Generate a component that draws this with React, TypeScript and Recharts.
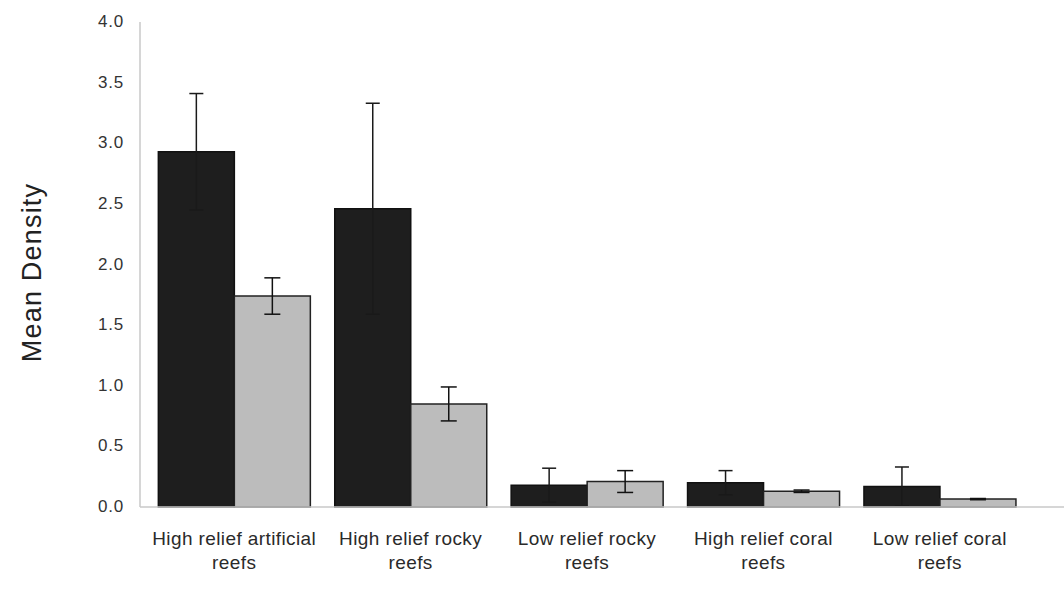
import React from 'react';
import { BarChart, Bar, XAxis, YAxis, ErrorBar } from 'recharts';

const categories = [
  'High relief artificial reefs',
  'High relief rocky reefs',
  'Low relief rocky reefs',
  'High relief coral reefs',
  'Low relief coral reefs',
];
const categoryLines = [
  ['High relief artificial', 'reefs'],
  ['High relief rocky', 'reefs'],
  ['Low relief rocky', 'reefs'],
  ['High relief coral', 'reefs'],
  ['Low relief coral', 'reefs'],
];
const darkValues = [2.93, 2.46, 0.18, 0.2, 0.17];
const darkErrors = [0.48, 0.87, 0.14, 0.1, 0.16];
const greyValues = [1.74, 0.85, 0.21, 0.13, 0.065];
const greyErrors = [0.15, 0.14, 0.09, 0.01, 0.005];
const yTicks = [0, 0.5, 1, 1.5, 2, 2.5, 3, 3.5, 4];

const data = categories.map((c, i) => ({
  category: c,
  dark: darkValues[i],
  darkErr: darkErrors[i],
  grey: greyValues[i],
  greyErr: greyErrors[i],
}));

const FONT = 'Liberation Sans, Arial, sans-serif';

const CategoryTick = (props: any) => {
  const { x, y, index } = props;
  const lines = categoryLines[index] || [];
  return (
    <g transform={`translate(${x},${y})`}>
      {lines.map((l: string, k: number) => (
        <text
          key={k}
          x={0}
          y={k * 24}
          dy={30}
          textAnchor="middle"
          fill="#2a2a2a"
          fontSize={19}
          letterSpacing={0.4}
          fontFamily={FONT}
        >
          {l}
        </text>
      ))}
    </g>
  );
};

const YTick = (props: any) => {
  const { x, y, payload } = props;
  return (
    <text x={x} y={y} dy={5} textAnchor="end" fill="#333" fontSize={17} letterSpacing={0.8} fontFamily={FONT}>
      {Number(payload.value).toFixed(1)}
    </text>
  );
};

export default function App() {
  return (
    <div style={{ position: 'absolute', left: 0, top: 0, background: '#fff' }}>
      <BarChart
        width={1064}
        height={599}
        data={data}
        margin={{ top: 22, right: 0, bottom: 0, left: 0 }}
        barCategoryGap="7%"
        barGap={0}
      >
        <XAxis
          dataKey="category"
          height={92}
          interval={0}
          tickLine={false}
          axisLine={{ stroke: '#c8c8c8', strokeWidth: 1.5 }}
          padding={{ left: 6, right: 36 }}
          tick={<CategoryTick />}
        />
        <YAxis
          width={140}
          domain={[0, 4]}
          ticks={yTicks}
          tickLine={false}
          tickSize={0}
          tickMargin={16}
          axisLine={{ stroke: '#c8c8c8', strokeWidth: 1.5 }}
          tick={<YTick />}
          label={{
            value: 'Mean Density',
            angle: -90,
            position: 'insideLeft',
            offset: 31,
            dy: 8,
            style: { textAnchor: 'middle', fill: '#222', fontSize: 27, letterSpacing: 1.2, fontFamily: FONT },
          }}
        />
        <Bar dataKey="dark" fill="#1e1e1e" stroke="#111" strokeWidth={1.5} isAnimationActive={false}>
          <ErrorBar dataKey="darkErr" width={7} stroke="#1a1a1a" strokeWidth={1.5} direction="y" />
        </Bar>
        <Bar dataKey="grey" fill="#bcbcbc" stroke="#222" strokeWidth={1.5} isAnimationActive={false}>
          <ErrorBar dataKey="greyErr" width={8} stroke="#111" strokeWidth={1.5} direction="y" />
        </Bar>
      </BarChart>
    </div>
  );
}
